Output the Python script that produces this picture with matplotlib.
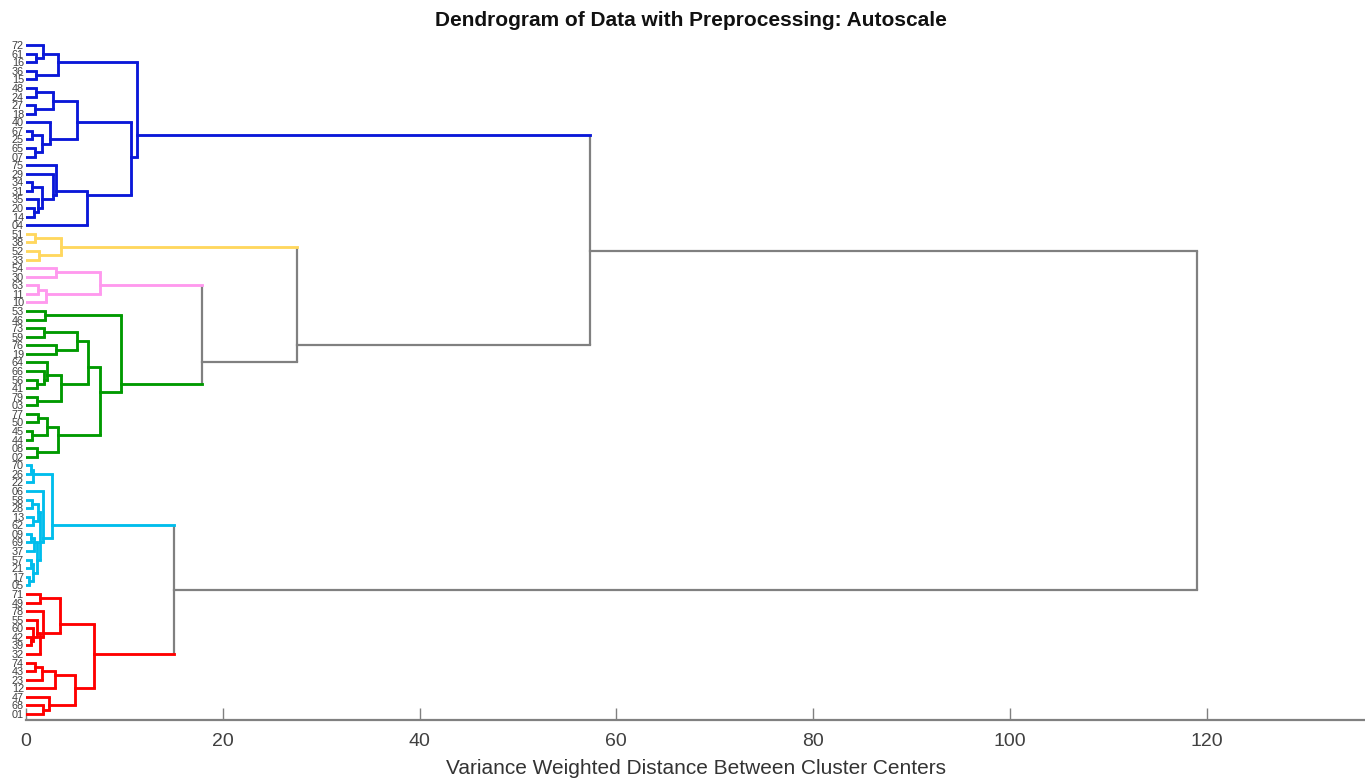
import matplotlib
matplotlib.use("Agg")
import matplotlib.pyplot as plt
import numpy as np

plt.rcParams['font.family'] = ['Liberation Sans', 'DejaVu Sans']

# leaf labels, top to bottom
leaf_labels = ["72", "61", "16", "36", "15", "48", "24", "27", "18", "40", "67", "25", "65", "07",
               "75", "29", "34", "31", "35", "20", "14", "04",
               "51", "38", "52", "33",
               "54", "30", "63", "11", "10",
               "53", "46", "73", "59", "76", "19", "64", "66", "56", "41", "79", "03", "77", "50",
               "45", "44", "08", "02",
               "70", "26", "22", "06", "58", "28", "13", "62", "09", "69", "37", "57", "21", "17", "05",
               "71", "49", "78", "55", "60", "42", "39", "32", "74", "43", "23", "12", "47", "68", "01"]

# merges: (node name, first child, second child, distance, cluster)
links = [
    ("b1", "61", "16", 1.0, "blue"), ("b2", "72", "b1", 1.7, "blue"), ("b3", "36", "15", 1.0, "blue"),
    ("b4", "b2", "b3", 3.3, "blue"), ("b5", "48", "24", 1.0, "blue"), ("b6", "27", "18", 0.9, "blue"),
    ("b7", "b5", "b6", 2.7, "blue"), ("b8", "67", "25", 0.6, "blue"), ("b9", "65", "07", 0.9, "blue"),
    ("b10", "b8", "b9", 1.6, "blue"), ("b11", "40", "b10", 2.4, "blue"), ("b12", "b7", "b11", 5.2, "blue"),
    ("b13", "34", "31", 0.6, "blue"), ("b14", "20", "14", 0.8, "blue"), ("b15", "35", "b14", 1.2, "blue"),
    ("b16", "b13", "b15", 1.6, "blue"), ("b17", "29", "b16", 2.7, "blue"), ("b18", "75", "b17", 3.1, "blue"),
    ("b19", "b18", "04", 6.2, "blue"), ("b20", "b12", "b19", 10.7, "blue"), ("b21", "b4", "b20", 11.25, "blue"),
    ("y1", "51", "38", 0.9, "yellow"), ("y2", "52", "33", 1.35, "yellow"), ("y3", "y1", "y2", 3.6, "yellow"),
    ("p1", "54", "30", 3.05, "pink"), ("p2", "63", "11", 1.25, "pink"), ("p3", "p2", "10", 2.0, "pink"),
    ("p4", "p1", "p3", 7.5, "pink"),
    ("g1", "53", "46", 1.9, "green"), ("g2", "73", "59", 1.8, "green"), ("g3", "76", "19", 3.1, "green"),
    ("g4", "g2", "g3", 5.15, "green"), ("g5", "56", "41", 1.1, "green"), ("g6", "66", "g5", 1.8, "green"),
    ("g7", "64", "g6", 2.1, "green"), ("g8", "79", "03", 1.1, "green"), ("g9", "g7", "g8", 3.6, "green"),
    ("g10", "g4", "g9", 6.3, "green"), ("g11", "77", "50", 1.2, "green"), ("g12", "45", "44", 0.6, "green"),
    ("g13", "g11", "g12", 2.1, "green"), ("g14", "08", "02", 1.1, "green"), ("g15", "g13", "g14", 3.3, "green"),
    ("g16", "g10", "g15", 7.5, "green"), ("g17", "g1", "g16", 9.7, "green"),
    ("k1", "p4", "g17", 17.85, "gray"), ("k2", "y3", "k1", 27.5, "gray"), ("k3", "b21", "k2", 57.3, "gray"),
    ("c1", "70", "26", 0.5, "cyan"), ("c2", "c1", "22", 0.75, "cyan"), ("c3", "58", "28", 0.6, "cyan"),
    ("c4", "13", "62", 0.7, "cyan"), ("c5", "c3", "c4", 1.2, "cyan"), ("c6", "09", "69", 0.55, "cyan"),
    ("c7", "c6", "37", 0.85, "cyan"), ("c8", "57", "21", 0.5, "cyan"), ("c9", "17", "05", 0.3, "cyan"),
    ("c10", "c8", "c9", 0.75, "cyan"), ("c11", "c7", "c10", 1.1, "cyan"), ("c12", "c5", "c11", 1.4, "cyan"),
    ("c13", "06", "c12", 1.75, "cyan"), ("c14", "c2", "c13", 2.6, "cyan"),
    ("r1", "71", "49", 1.4, "red"), ("r2", "42", "39", 0.5, "red"), ("r3", "60", "r2", 0.75, "red"),
    ("r4", "55", "r3", 1.1, "red"), ("r5", "r4", "32", 1.4, "red"), ("r6", "78", "r5", 1.75, "red"),
    ("r7", "r1", "r6", 3.45, "red"), ("r8", "74", "43", 0.9, "red"), ("r9", "r8", "23", 1.6, "red"),
    ("r10", "r9", "12", 2.95, "red"), ("r11", "68", "01", 1.75, "red"), ("r12", "47", "r11", 2.3, "red"),
    ("r13", "r10", "r12", 5.0, "red"), ("r14", "r7", "r13", 6.9, "red"),
    ("k4", "c14", "r14", 15.0, "gray"), ("root", "k3", "k4", 119.0, "gray"),
]

cluster_colors = {"blue": "#0a18d8", "yellow": "#ffd75e", "pink": "#ff99ee", "green": "#009a00",
                  "cyan": "#00bdec", "red": "#ff0000", "gray": "#808080"}

xticks = [0, 20, 40, 60, 80, 100, 120]

fig = plt.figure(figsize=(13.65, 7.78), dpi=100)
ax = fig.add_axes([26 / 1365, 1 - 720 / 778, 1 - 26 / 1365, (720 - 40) / 778])

# node positions: y = mean of member leaf positions
pos = {lab: [i] for i, lab in enumerate(leaf_labels)}
height = {lab: 0.0 for lab in leaf_labels}
color = {}
for name, a, b, h, cl in links:
    pos[name] = pos[a] + pos[b]
    height[name] = h
    color[name] = cl

def ypos(n):
    return float(np.mean(pos[n]))

LW_C, LW_G = 2.05, 1.6
for name, a, b, h, cl in links:
    c = cluster_colors[cl]
    lw = LW_G if cl == "gray" else LW_C
    ya, yb = ypos(a), ypos(b)
    ax.plot([h, h], [ya, yb], color=c, lw=lw, solid_capstyle='butt', zorder=2)
    for ch, yc in ((a, ya), (b, yb)):
        cc = cluster_colors[color[ch]] if ch in color else c
        lwc = LW_G if (ch in color and color[ch] == "gray") else LW_C
        ax.plot([height[ch], h], [yc, yc], color=cc, lw=lwc, solid_capstyle='projecting', zorder=2)

n = len(leaf_labels)
ax.set_ylim(n - 1 + 0.7, -0.6)
ax.set_xlim(0, 136.1)
ax.set_yticks(range(n))
ax.set_yticklabels(leaf_labels, fontsize=7.8, color="#404040")
ax.tick_params(axis='y', length=0, pad=1.5)
ax.set_xticks(xticks)
ax.set_xticklabels([str(t) for t in xticks], fontsize=14, color="#404040")
ax.tick_params(axis='x', direction='in', length=8.5, width=1, color="#808080", pad=9)

for s in ['top', 'right', 'left']:
    ax.spines[s].set_visible(False)
ax.spines['bottom'].set_color("#808080")
ax.spines['bottom'].set_linewidth(1.6)

ax.set_xlabel("Variance Weighted Distance Between Cluster Centers", fontsize=15, color="#333333", labelpad=7)
fig.text(691 / 1365, 1 - 20 / 778, "Dendrogram of Data with Preprocessing: Autoscale",
         ha='center', va='center', fontsize=15, fontweight='bold', color="#111111")

fig.savefig("out.png", dpi=100)
